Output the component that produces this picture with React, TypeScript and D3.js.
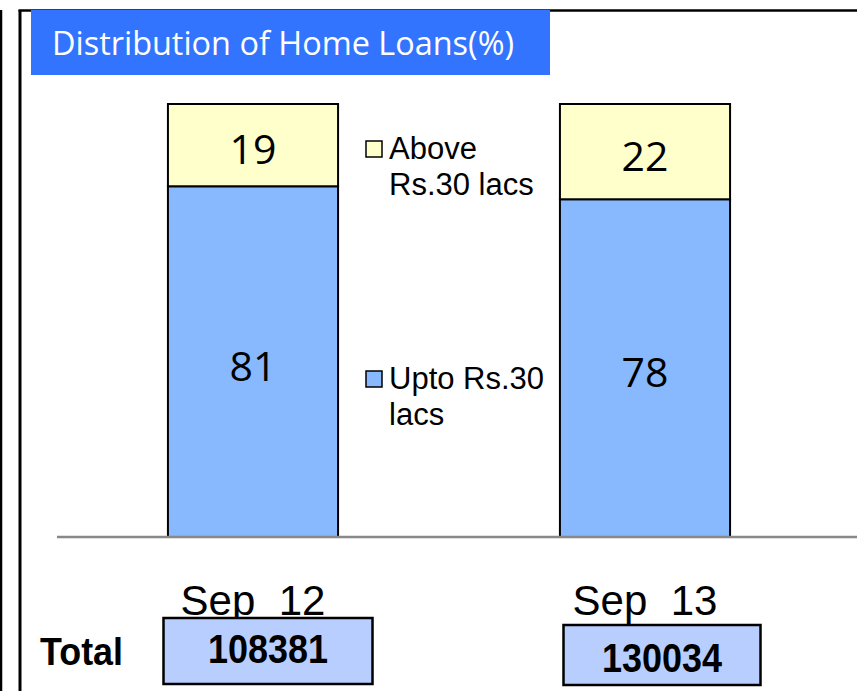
import React from "react";
import * as d3 from "d3";

const width = 857;
const height = 691;

// data
const categories = ["Sep 12", "Sep 13"];
const uptoValues = [81, 78];
const aboveValues = [19, 22];
const totals = [108381, 130034];
const seriesKeys = ["upto", "above"];
const legendLines = [
  ["Upto Rs.30", "lacs"],
  ["Above", "Rs.30 lacs"],
];

const colors = { upto: "#88B9FF", above: "#FFFFCC" };
const title = "Distribution of Home Loans(%)";

// plot area
const baseY = 537;
const topY = 104;
const left = 57;
const right = 841;

// total boxes sit a little off the bar centres, as in the slide
const boxLayout = [
  { dx: 15, y: 618, w: 209, h: 66, ty: 649 },
  { dx: 17, y: 625, w: 197, h: 60, ty: 658 },
];

const App = () => {
  const rows = categories.map((c, i) => ({ cat: c, upto: uptoValues[i], above: aboveValues[i] }));
  const stacked = d3.stack().keys(seriesKeys)(rows as any);

  const xScale = d3
    .scaleBand()
    .domain(categories)
    .range([left, right])
    .paddingInner(0.566)
    .paddingOuter(0.283);

  const yScale = d3.scaleLinear().domain([0, 100]).range([baseY, topY]);
  const bw = xScale.bandwidth();

  return (
    <div style={{ position: "absolute", left: 0, top: 0 }}>
      <svg width={width} height={height} style={{ display: "block" }}>
        <rect width={width} height={height} fill="#fff" />
        {/* frame lines */}
        <line x1={1} x2={1} y1={10} y2={height} stroke="#000" strokeWidth={2.5} />
        <line x1={20} x2={20} y1={10} y2={height} stroke="#000" strokeWidth={3} />
        <line x1={18.5} x2={width} y1={10.5} y2={10.5} stroke="#000" strokeWidth={2.5} />

        {/* title banner */}
        <rect x={31} y={10} width={519} height={65} fill="#3374FF" />
        <text
          x={52}
          y={55}
          fill="#fff"
          fontFamily="'Open Sans', sans-serif"
          fontSize={33}
          textLength={462}
          lengthAdjust="spacingAndGlyphs"
        >
          {title}
        </text>

        {/* stacked bars */}
        {stacked.map((layer) =>
          layer.map((d, i) => {
            const x = xScale(categories[i]) as number;
            const y0 = yScale(d[0]);
            const y1 = yScale(d[1]);
            return (
              <g key={layer.key + i}>
                <rect
                  x={x}
                  y={y1}
                  width={bw}
                  height={y0 - y1}
                  fill={(colors as any)[layer.key]}
                  stroke="#000"
                  strokeWidth={2}
                />
                <text
                  x={x + bw / 2}
                  y={(y0 + y1) / 2 + 3}
                  textAnchor="middle"
                  dominantBaseline="central"
                  fontFamily="'Open Sans', sans-serif"
                  fontSize={41}
                  fill="#000"
                >
                  {d[1] - d[0]}
                </text>
              </g>
            );
          })
        )}

        {/* baseline */}
        <line x1={left} x2={width} y1={baseY} y2={baseY} stroke="#888" strokeWidth={2.5} />

        {/* legend */}
        {seriesKeys.map((k, i) => {
          const sy = i === 0 ? 371 : 141;
          return (
            <g key={k}>
              <rect x={366} y={sy} width={16} height={16} fill={(colors as any)[k]} stroke="#000" strokeWidth={1.5} />
              {legendLines[i].map((ln, j) => (
                <text
                  key={j}
                  x={389}
                  y={sy + 18 + j * 36}
                  fontFamily="'Liberation Sans', Arial, sans-serif"
                  fontSize={31}
                  fill="#000"
                >
                  {ln}
                </text>
              ))}
            </g>
          );
        })}

        {/* category labels */}
        {categories.map((c) => (
          <text
            key={c}
            x={(xScale(c) as number) + bw / 2}
            y={615}
            textAnchor="middle"
            fontFamily="'Liberation Sans', Arial, sans-serif"
            fontSize={42}
            fill="#000"
            style={{ whiteSpace: "pre" }}
          >
            {c.replace(" ", "  ")}
          </text>
        ))}

        {/* totals */}
        <text
          x={40}
          y={665}
          fontFamily="'Liberation Sans', Arial, sans-serif"
          fontWeight="bold"
          fontSize={38}
          textLength={83}
          lengthAdjust="spacingAndGlyphs"
          fill="#000"
        >
          Total
        </text>
        {totals.map((t, i) => {
          const cx = (xScale(categories[i]) as number) + bw / 2 + boxLayout[i].dx;
          const b = boxLayout[i];
          return (
            <g key={t}>
              <rect x={cx - b.w / 2} y={b.y} width={b.w} height={b.h} fill="#B7CEFF" stroke="#000" strokeWidth={2.5} />
              <text
                x={cx}
                y={b.ty}
                textAnchor="middle"
                dominantBaseline="central"
                fontFamily="'Liberation Sans', Arial, sans-serif"
                fontWeight="bold"
                fontSize={40}
                textLength={120}
                lengthAdjust="spacingAndGlyphs"
                fill="#000"
              >
                {String(t)}
              </text>
            </g>
          );
        })}
      </svg>
    </div>
  );
};

export default App;
